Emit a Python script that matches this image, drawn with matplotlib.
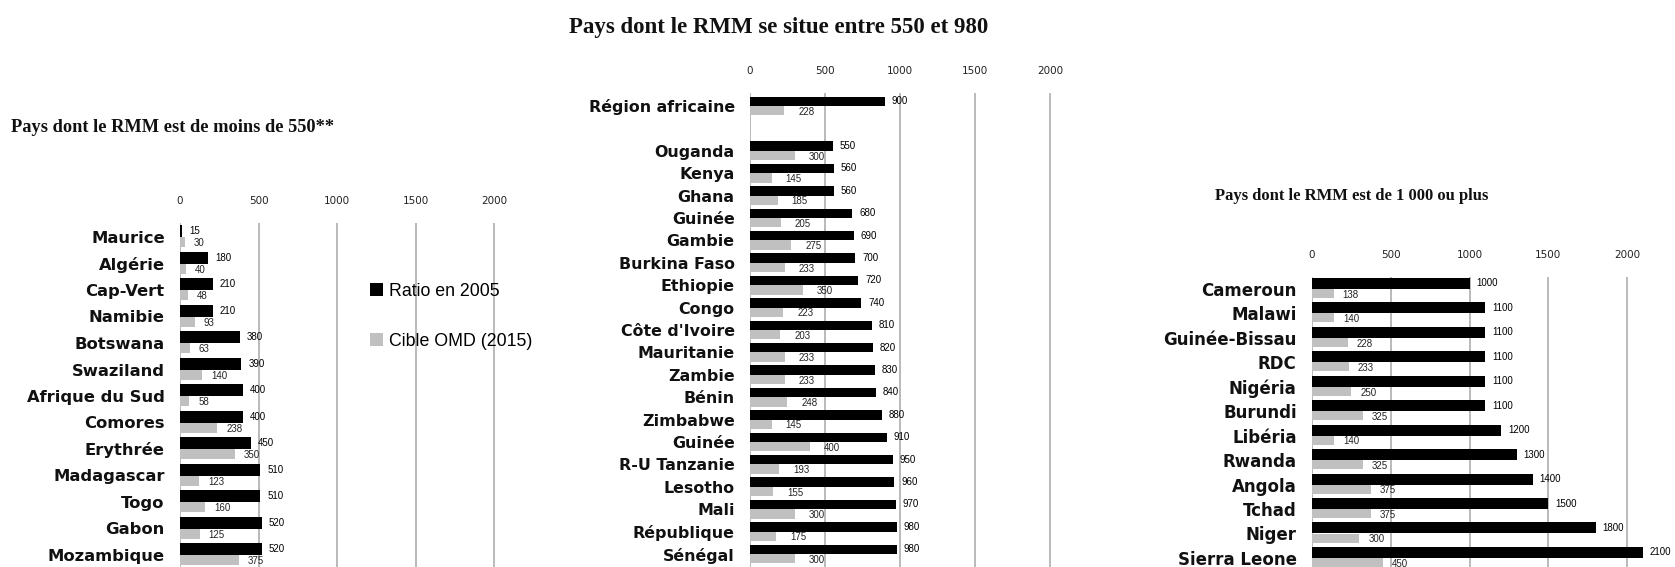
import numpy as np
import matplotlib
matplotlib.use("Agg")
import matplotlib.pyplot as plt
import matplotlib.patches as patches

# Data
# ------------------------------------------------------------------------------
low_countries = ["Maurice", "Algérie", "Cap-Vert", "Namibie", "Botswana",
                 "Swaziland", "Afrique du Sud", "Comores", "Erythrée",
                 "Madagascar", "Togo", "Gabon", "Mozambique"]
low_ratio = [15, 180, 210, 210, 380, 390, 400, 400, 450, 510, 510, 520, 520]
low_target = [30, 40, 48, 93, 63, 140, 58, 238, 350, 123, 160, 125, 375]

mid_countries = ["Région africaine", "", "Ouganda", "Kenya", "Ghana", "Guinée",
                 "Gambie", "Burkina Faso", "Ethiopie", "Congo", "Côte d'Ivoire",
                 "Mauritanie", "Zambie", "Bénin", "Zimbabwe", "Guinée",
                 "R-U Tanzanie", "Lesotho", "Mali", "République", "Sénégal"]
mid_ratio = [900, np.nan, 550, 560, 560, 680, 690, 700, 720, 740, 810, 820,
             830, 840, 880, 910, 950, 960, 970, 980, 980]
mid_target = [228, np.nan, 300, 145, 185, 205, 275, 233, 350, 223, 203, 233,
              233, 248, 145, 400, 193, 155, 300, 175, 300]

high_countries = ["Cameroun", "Malawi", "Guinée-Bissau", "RDC", "Nigéria",
                  "Burundi", "Libéria", "Rwanda", "Angola", "Tchad", "Niger",
                  "Sierra Leone"]
high_ratio = [1000, 1100, 1100, 1100, 1100, 1100, 1200, 1300, 1400, 1500,
              1800, 2100]
high_target = [138, 140, 228, 233, 250, 325, 140, 325, 375, 375, 300, 450]

ticks = [0, 500, 1000, 1500, 2000]
series_names = ["Ratio en 2005", "Cible OMD (2015)"]

W, H = 1675, 567
BLACK = "black"
GREY = "#c0c0c0"


# Panels
# ------------------------------------------------------------------------------
def panel(fig, names, ratio, target, x0, ppk, top, first, step, hb, hg, goff,
          namesize):
    xmax = 2250
    ax = fig.add_axes([x0 / W, 0, xmax * ppk / 1000 / W, (H - top) / H])
    ax.set_facecolor("none")
    y = np.arange(len(names))
    ax.barh(y - hb / 2, ratio, height=hb, color=BLACK, zorder=3)
    ax.barh(y + hg / 2, target, height=hg, color=GREY, zorder=3)
    ax.set_xlim(0, xmax)
    ax.set_ylim((H - first) / step, (top - first) / step)
    ax.set_yticks(y, names)
    ax.set_xticks(ticks)
    ax.xaxis.tick_top()
    ax.tick_params(axis="x", length=0, pad=12, labelsize=7.5, labelcolor="#222222")
    ax.tick_params(axis="y", length=0, pad=11)
    for lab in ax.get_yticklabels():
        lab.set_fontsize(namesize)
        lab.set_fontweight("bold")
        lab.set_color("#111111")
    ax.grid(axis="x", color="#b4b4b4", lw=1.3, zorder=0)
    ax.grid(axis="y", visible=False)
    for s in ax.spines.values():
        s.set_visible(False)

    px = 1000 / ppk
    for i, (r, t) in enumerate(zip(ratio, target)):
        if np.isnan(r):
            continue
        ax.text(r + 7 * px, i - hb / 2, f"{r:g}", va="center", ha="left",
                fontsize=7, family="Liberation Sans", zorder=4)
        ax.text(t + goff * px, i + hg / 2 + 0.05, f"{t:g}", va="center",
                ha="left", fontsize=7, family="Liberation Sans",
                color="#222222", zorder=2)
    return ax


fig = plt.figure(figsize=(W / 100, H / 100), dpi=100)

ax1 = panel(fig, low_countries, low_ratio, low_target,
            x0=180, ppk=157, top=223, first=237, step=26.5,
            hb=0.45, hg=0.38, goff=9, namesize=11.8)
ax2 = panel(fig, mid_countries, mid_ratio, mid_target,
            x0=750, ppk=150, top=93, first=106, step=22.4,
            hb=0.42, hg=0.42, goff=14, namesize=11.4)
ax3 = panel(fig, high_countries, high_ratio, high_target,
            x0=1312, ppk=157.5, top=277, first=289, step=24.45,
            hb=0.45, hg=0.37, goff=9, namesize=12)

# titles
title_font = dict(family="Liberation Serif", weight="bold", color="#111111")
fig.text(11 / W, 1 - 127 / H, "Pays dont le RMM est de moins de 550**",
         ha="left", va="center", fontsize=13.2, **title_font)
fig.text(779 / W, 1 - 28 / H, "Pays dont le RMM se situe entre 550 et 980",
         ha="center", va="center", fontsize=16.5, **title_font)
fig.text(1352 / W, 1 - 196 / H, "Pays dont le RMM est de 1 000 ou plus",
         ha="center", va="center", fontsize=12, **title_font)

# legend
handles = [patches.Patch(facecolor=BLACK), patches.Patch(facecolor=GREY)]
fig.legend(handles, series_names, loc="upper left",
           bbox_to_anchor=(370 / W, 1 - 283 / H), frameon=False,
           borderpad=0, borderaxespad=0, handlelength=0.75, handleheight=0.75,
           handletextpad=0.3, labelspacing=1.85,
           prop=dict(family="Liberation Sans", size=12.8))

fig.savefig("out.png", dpi=100)
